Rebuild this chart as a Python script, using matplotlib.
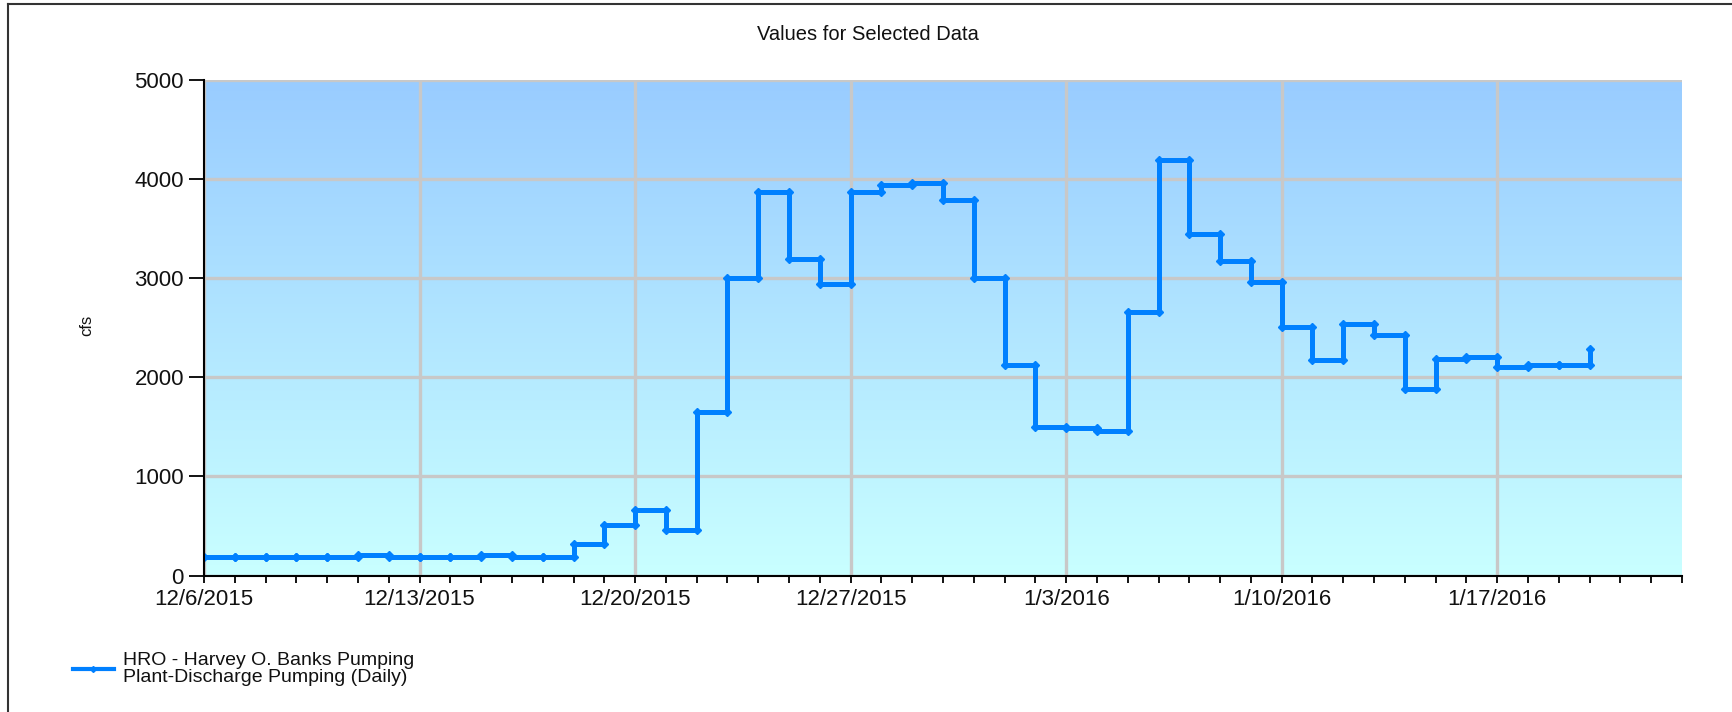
import numpy as np
import pandas as pd
import matplotlib
matplotlib.use("Agg")
import matplotlib.pyplot as plt
import matplotlib.dates as mdates
from matplotlib.lines import Line2D
from matplotlib.colors import LinearSegmentedColormap

plt.rcParams['font.family'] = ['Liberation Sans', 'DejaVu Sans']

# daily discharge pumping, cfs
dates = pd.date_range("2015-12-06", "2016-01-20", freq="D")
values = [
    188, 188, 188, 188, 188, 210, 188, 188, 188, 210, 188, 188,   # 12/6 - 12/17
    322, 507, 658, 456, 1645, 2998, 3870, 3190, 2940,             # 12/18 - 12/26
    3862, 3932, 3952, 3782, 3003, 2120, 1500, 1488, 1460,         # 12/27 - 1/4
    2655, 4186, 3443, 3172, 2963, 2507, 2170, 2534, 2422,         # 1/5 - 1/13
    1876, 2186, 2203, 2101, 2118, 2125, 2280,                     # 1/14 - 1/20
]
x_start = pd.Timestamp("2015-12-06")
x_end = pd.Timestamp("2016-01-23")
y_ticks = [0, 1000, 2000, 3000, 4000, 5000]
series_label = "HRO - Harvey O. Banks Pumping\nPlant-Discharge Pumping (Daily)"
title = "Values for Selected Data"
y_label = "cfs"

line_color = "#0080FF"
text_color = "#111111"

fig = plt.figure(figsize=(17.32, 7.12), dpi=100)
ax = fig.add_axes([0.1178, 0.1917, 0.9711 - 0.1178, 0.8883 - 0.1917])

# gradient background of the plot area
cmap = LinearSegmentedColormap.from_list("bg", ["#C9FFFF", "#99CCFF"])
grad = np.linspace(0, 1, 256).reshape(-1, 1)
ax.imshow(grad, cmap=cmap, aspect="auto", origin="lower",
          extent=[0, 1, 0, 1], transform=ax.transAxes, zorder=0)

ax.plot(dates, values, drawstyle="steps-post", color=line_color, lw=3.6,
        marker="D", ms=4, solid_joinstyle="miter", zorder=3)
# markers at the step corners
ax.plot(dates[1:], values[:-1], ls="none", color=line_color,
        marker="D", ms=4, zorder=3)

ax.set_xlim(x_start, x_end)
ax.set_ylim(0, 5000)
ax.set_yticks(y_ticks)

ax.xaxis.set_major_locator(mdates.WeekdayLocator(byweekday=mdates.SU))
ax.xaxis.set_minor_locator(mdates.DayLocator())


def fmt_date(x, pos=None):
    d = mdates.num2date(x)
    return f"{d.month}/{d.day}/{d.year}"


ax.xaxis.set_major_formatter(plt.FuncFormatter(fmt_date))

ax.set_axisbelow(True)
ax.grid(True, which="major", color="#C8C8C8", lw=2.4)

for s in ["top", "right"]:
    ax.spines[s].set_visible(False)
for s in ["left", "bottom"]:
    ax.spines[s].set_color("#000000")
    ax.spines[s].set_linewidth(1.5)
    ax.spines[s].set_zorder(4)

ax.tick_params(axis="y", which="major", direction="out", length=11, width=1.3,
               pad=3.5, labelsize=16, labelcolor=text_color)
ax.tick_params(axis="x", which="both", direction="out", length=5, width=1.3,
               pad=4.5, labelsize=16, labelcolor=text_color)

fig.text(0.501, 0.952, title, ha="center", va="center", fontsize=14.5,
         color=text_color)
fig.text(0.05, 0.5426, y_label, ha="center", va="center", rotation=90,
         fontsize=12, color=text_color)

handle = Line2D([], [], color=line_color, lw=3.0, marker="D", ms=3)
leg = fig.legend([handle], [series_label], loc="center left",
                 bbox_to_anchor=(0.0421, 0.0604), frameon=False, fontsize=14,
                 handlelength=2.1, handletextpad=0.5, borderpad=0,
                 borderaxespad=0, labelspacing=0, labelcolor=text_color)
for t in leg.get_texts():
    t.set_linespacing(1.0)

# screenshot frame (left and top edges)
fig.add_artist(Line2D([8 / 1732, 8 / 1732], [0, 1 - 4 / 712],
                      color="#333333", lw=1.5, transform=fig.transFigure))
fig.add_artist(Line2D([8 / 1732, 1], [1 - 4 / 712, 1 - 4 / 712],
                      color="#333333", lw=1.5, transform=fig.transFigure))

fig.savefig("out.png", dpi=100)
